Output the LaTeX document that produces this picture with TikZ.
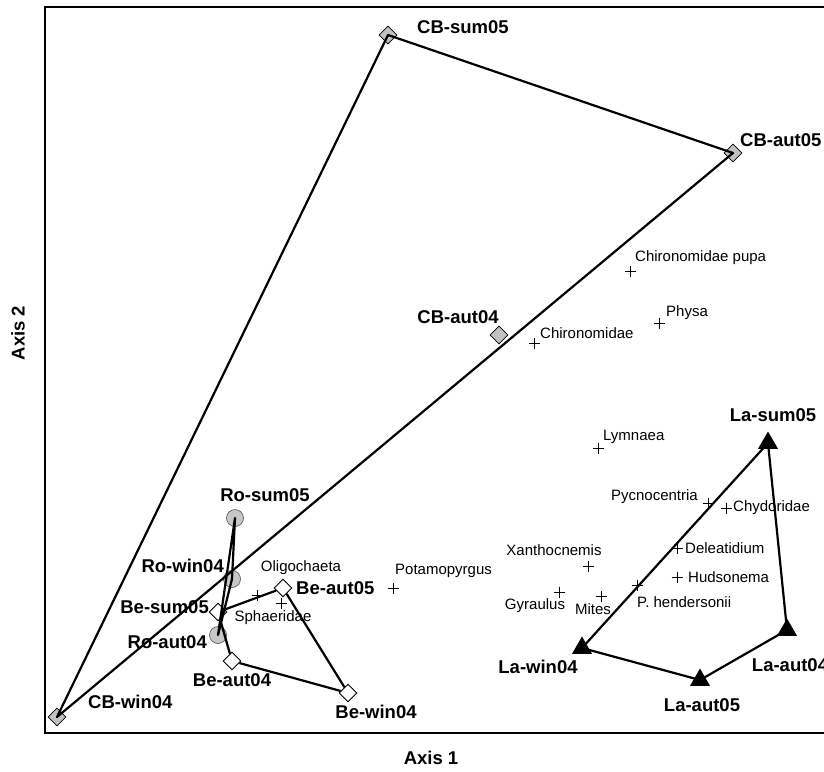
\documentclass[tikz,border=0pt]{standalone}
\usepackage{fontspec}
\setmainfont{Liberation Sans}
\usepackage{tikz}
\usetikzlibrary{shapes.geometric,positioning}
\tikzstyle{site}=[font=\bfseries\fontsize{18.5}{20}\selectfont, inner sep=0pt]
\tikzstyle{taxon}=[font=\fontsize{15}{17}\selectfont, inner sep=0pt]
\tikzstyle{cbmark}=[diamond, draw=black, line width=0.8pt, fill=black!24, minimum size=18pt, inner sep=0pt]
\tikzstyle{bemark}=[diamond, draw=black, line width=0.9pt, fill=white, minimum size=18pt, inner sep=0pt]
\tikzstyle{romark}=[circle, draw=black!70, line width=0.6pt, fill=black!22, minimum size=17pt, inner sep=0pt]
\tikzstyle{lamark}=[regular polygon, regular polygon sides=3, fill=black, minimum size=23pt, inner sep=0pt]
\tikzstyle{hull}=[line width=2.2pt, line join=round]
\newcommand{\taxonmark}[2]{\coordinate (#1) at (#2);
  \draw[line width=0.8pt] (#1) ++(-5.5,0) -- ++(11,0) (#1) ++(0,-5.5) -- ++(0,11);}

\begin{document}
\begin{tikzpicture}[x=1pt, y=-1pt]
	\useasboundingbox (0,0) rectangle (824,771);
	\clip (0,0) rectangle (824,771);

	\draw[line width=2.2pt] (840,7) -- (45,7) -- (45,733) -- (840,733);

	% sites
	\node[cbmark] (cbsum05) at (388,35) {};
	\node[cbmark] (cbaut05) at (733,153) {};
	\node[cbmark] (cbaut04) at (499,335) {};
	\node[cbmark] (cbwin04) at (57,717) {};

	\node[romark] (rosum05) at (235,518) {};
	\node[romark] (rowin04) at (232,579) {};
	\node[romark] (roaut04) at (218,635) {};

	\node[bemark] (besum05) at (218,612) {};
	\node[bemark] (beaut05) at (283,588) {};
	\node[bemark] (beaut04) at (232,661) {};
	\node[bemark] (bewin04) at (348,693) {};

	\node[lamark] (lasum05) at (768,443) {};
	\node[lamark] (lawin04) at (582,648) {};
	\node[lamark] (laaut05) at (700,680) {};
	\node[lamark] (laaut04) at (787,630) {};

	\draw[hull] (cbwin04.center) -- (cbsum05.center) -- (cbaut05.center) -- cycle;
	\draw[hull] (rosum05.center) -- (rowin04.center) -- (roaut04.center) -- cycle;
	\draw[hull] (besum05) -- (beaut05) -- (bewin04) -- (beaut04) -- (besum05);
	\draw[hull] (lasum05.center) -- (lawin04.center) -- (laaut05.center) -- (laaut04.center) -- cycle;

	\node[site] [right=29pt of cbsum05.center, yshift=8pt] {CB-sum05};
	\node[site] [right=7pt of cbaut05.center, yshift=13pt] {CB-aut05};
	\node[site] [above=11pt of cbaut04.center, xshift=-41pt] {CB-aut04};
	\node[site] [right=31pt of cbwin04.center, yshift=15pt] {CB-win04};
	\node[site] [above=16pt of rosum05.center, xshift=30pt] {Ro-sum05};
	\node[site] [left=8pt of rowin04.center, yshift=13pt] {Ro-win04};
	\node[site] [left=11pt of roaut04.center, yshift=-7pt] {Ro-aut04};
	\node[site] [left=9pt of besum05.center, yshift=5pt] {Be-sum05};
	\node[site] [right=13pt of beaut05.center] {Be-aut05};
	\node[site] [below=12pt of beaut04.center] {Be-aut04};
	\node[site] [below=12pt of bewin04.center, xshift=28pt] {Be-win04};
	\node[site] [above=21pt of lasum05.center, xshift=5pt] {La-sum05};
	\node[site] [below=12pt of lawin04.center, xshift=-44pt] {La-win04};
	\node[site] [below=18pt of laaut05.center, xshift=2pt] {La-aut05};
	\node[site] [below=28pt of laaut04.center, xshift=3pt] {La-aut04};

	% taxa
	\taxonmark{chpupa}{630,271}
	\taxonmark{physa}{659,323}
	\taxonmark{chiro}{534,343}
	\taxonmark{lymnaea}{598,448}
	\taxonmark{pycno}{708,503}
	\taxonmark{chydor}{726,508}
	\taxonmark{delea}{677,548}
	\taxonmark{hudson}{677,577}
	\taxonmark{xantho}{588,566}
	\taxonmark{gyraulus}{559,592}
	\taxonmark{mites}{601,596}
	\taxonmark{phend}{637,585}
	\taxonmark{oligo}{257,595}
	\taxonmark{sphaer}{281,603}
	\taxonmark{potamo}{393,588}

	\node[taxon] [right=5pt of chpupa, yshift=13pt] {Chironomidae pupa};
	\node[taxon] [right=7pt of physa, yshift=10pt] {Physa};
	\node[taxon] [right=6pt of chiro, yshift=10pt] {Chironomidae};
	\node[taxon] [right=5pt of lymnaea, yshift=11pt] {Lymnaea};
	\node[taxon] [left=10pt of pycno, yshift=6pt] {Pycnocentria};
	\node[taxon] [right=7pt of chydor] {Chydoridae};
	\node[taxon] [right=8pt of delea] {Deleatidium};
	\node[taxon] [right=11pt of hudson] {Hudsonema};
	\node[taxon] [above=10pt of xantho, xshift=-34pt] {Xanthocnemis};
	\node[taxon] [below=6pt of gyraulus, xshift=-24pt] {Gyraulus};
	\node[taxon] [below=7pt of mites, xshift=-8pt] {Mites};
	\node[taxon] [right=0pt of phend, yshift=-17pt] {P. hendersonii};
	\node[taxon] [above=20pt of oligo, xshift=44pt] {Oligochaeta};
	\node[taxon] [below=7pt of sphaer, xshift=-8pt] {Sphaeridae};
	\node[taxon] [right=2pt of potamo, yshift=17pt] {Potamopyrgus};

	% axes
	\node[site] (axisone) at (431,758) {Axis 1};
	\node[site, rotate=90] (axistwo) at (18,333) {Axis 2};
\end{tikzpicture}
\end{document}
